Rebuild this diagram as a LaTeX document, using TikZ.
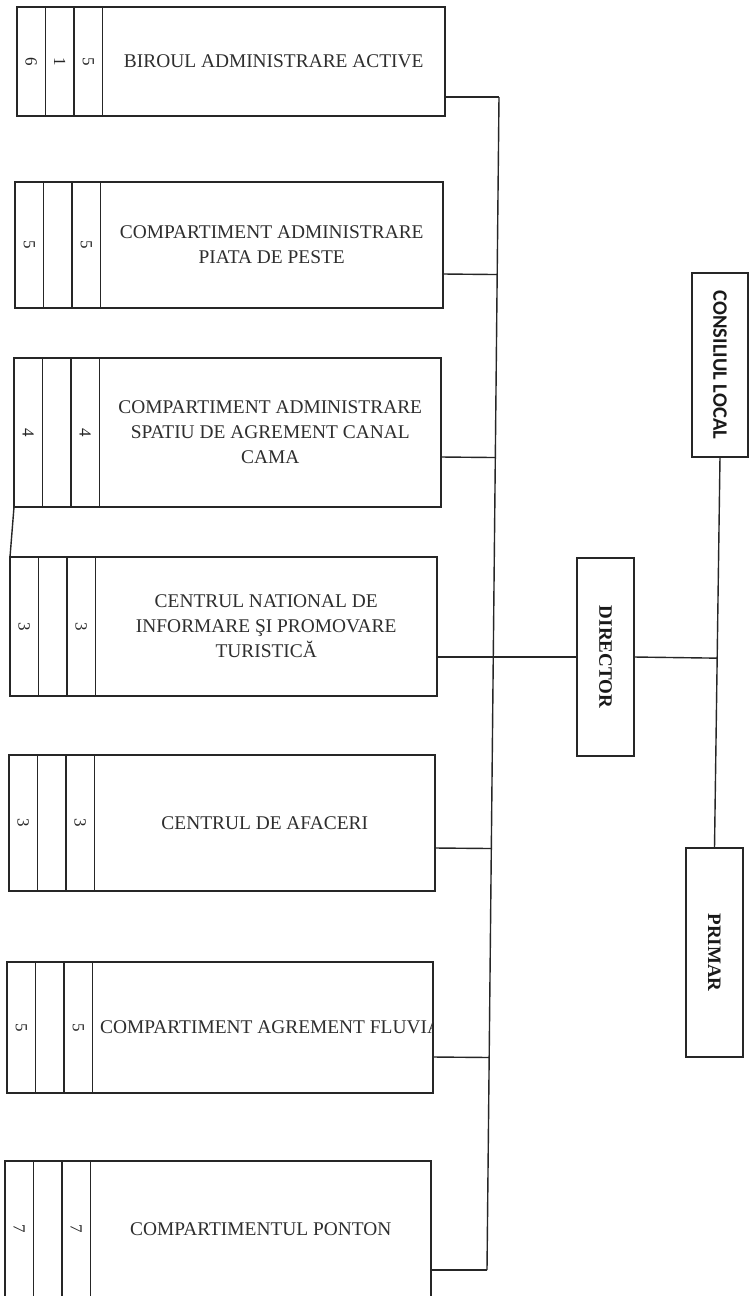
\documentclass[tikz,border=0pt]{standalone}
\usepackage{fontspec}
\setmainfont{Liberation Serif}
\newfontfamily\calfont{Carlito}
\usetikzlibrary{calc}
\tikzset{
  unitbox/.style={draw=black!85, line width=1.4pt, inner sep=0pt, outer sep=0pt, anchor=north west},
  sidebox/.style={draw=black!85, line width=1.4pt, inner sep=0pt, outer sep=0pt},
  link/.style={draw=black!85, line width=1.4pt},
  digit/.style={text=black!85, rotate=-90, inner sep=0pt, font=\fontsize{17}{17}\selectfont},
  unittext/.style={text=black!82, inner sep=0pt, align=center, font=\fontsize{19.4}{25}\selectfont},
  vlabel/.style={text=black!90, rotate=-90, inner sep=0pt, font=\bfseries\fontsize{19}{19}\selectfont},
}
\newcommand\orgunit[9]{%
  \node[unitbox, minimum width=#4pt, minimum height=#5pt] (#1) at (#2,#3) {};
  \draw[link] ($(#1.north west)+(28.5,0)$) -- ($(#1.south west)+(28.5,0)$);
  \draw[link] ($(#1.north west)+(57,0)$) -- ($(#1.south west)+(57,0)$);
  \draw[link] ($(#1.north west)+(85.5,0)$) -- ($(#1.south west)+(85.5,0)$);
  \node[digit] (#1a) at ($(#1.west)+(14.25,0)$) {#6};
  \node[digit] (#1b) at ($(#1.west)+(42.75,0)$) {#7};
  \node[digit] (#1c) at ($(#1.west)+(71.25,0)$) {#8};
  \node[unittext] (#1t) at ($(#1.west)+({(85.5+#4)/2},0)$) {#9};
}
\begin{document}
\begin{tikzpicture}[x=1pt,y=-1pt]
\useasboundingbox (0,0) rectangle (751,1296);
\clip (0,0) rectangle (751,1296);
\fill[white] (0,0) rectangle (751,1296);

% units
\orgunit{u1}{17}{7}{428}{109}{6}{1}{5}{BIROUL ADMINISTRARE ACTIVE}
\orgunit{u2}{15}{182}{428}{126}{5}{}{5}{COMPARTIMENT ADMINISTRARE\\PIATA DE PESTE}
\orgunit{u3}{14}{358}{427}{149}{4}{}{4}{COMPARTIMENT ADMINISTRARE\\SPATIU DE AGREMENT CANAL\\CAMA}
\orgunit{u4}{10}{557}{427}{139}{3}{}{3}{CENTRUL NATIONAL DE\\INFORMARE ŞI PROMOVARE\\TURISTICĂ}
\orgunit{u5}{9}{755}{426}{136}{3}{}{3}{CENTRUL DE AFACERI}
\orgunit{u6}{7}{962}{426}{131}{5}{}{5}{}
\orgunit{u7}{5}{1161}{426}{136}{7}{}{7}{COMPARTIMENTUL PONTON}
\begin{scope}
  \clip ($(u6.north west)+(86,0)$) rectangle (u6.south east);
  \node[unittext, anchor=west] (u6t) at ($(u6.west)+(93,0)$) {COMPARTIMENT AGREMENT FLUVIAL};
\end{scope}

% side boxes
\node[sidebox, minimum width=56pt, minimum height=184pt] (cl) at (720,365) {};
\node[text=black!90, rotate=-90, inner sep=0pt, font=\calfont\bfseries\fontsize{20.5}{20.5}\selectfont] (clt) at (cl.center) {CONSILIUL LOCAL};
\node[sidebox, minimum width=57pt, minimum height=198pt] (dir) at (605.5,657) {};
\node[vlabel] (dirt) at (dir.center) {DIRECTOR};
\node[sidebox, minimum width=57pt, minimum height=209pt] (pr) at (714.5,952.5) {};
\node[vlabel] (prt) at (pr.center) {PRIMAR};

% bus
\coordinate (bt) at (499,97);
\coordinate (bb) at (487,1270);
\draw[link] (bt) -- (bb);
\draw[link] ($(u1.north east)+(0,90)$) -- (bt);
\draw[link] ($(u7.north east)+(0,109)$) -- (bb);
\coordinate (p2) at ($(u2.north east)+(0,92)$);
\draw[link] (p2) -- ($(bt)!(p2)!(bb)$);
\coordinate (p3) at ($(u3.north east)+(0,99)$);
\draw[link] (p3) -- ($(bt)!(p3)!(bb)$);
\coordinate (p5) at ($(u5.north east)+(0,93)$);
\draw[link] (p5) -- ($(bt)!(p5)!(bb)$);
\coordinate (p6) at ($(u6.north east)+(0,95)$);
\draw[link] (p6) -- ($(bt)!(p6)!(bb)$);

% director links
\draw[link] (u4.east |- dir.west) -- (dir.west);
\draw[link] (cl.south) -- (pr.north);
\draw[link] (dir.east) -- ($(cl.south)!(dir.east)!(pr.north)$);
% left edge link between units 3 and 4
\draw[link] (u3.south west) -- (u4.north west);
\end{tikzpicture}
\end{document}
